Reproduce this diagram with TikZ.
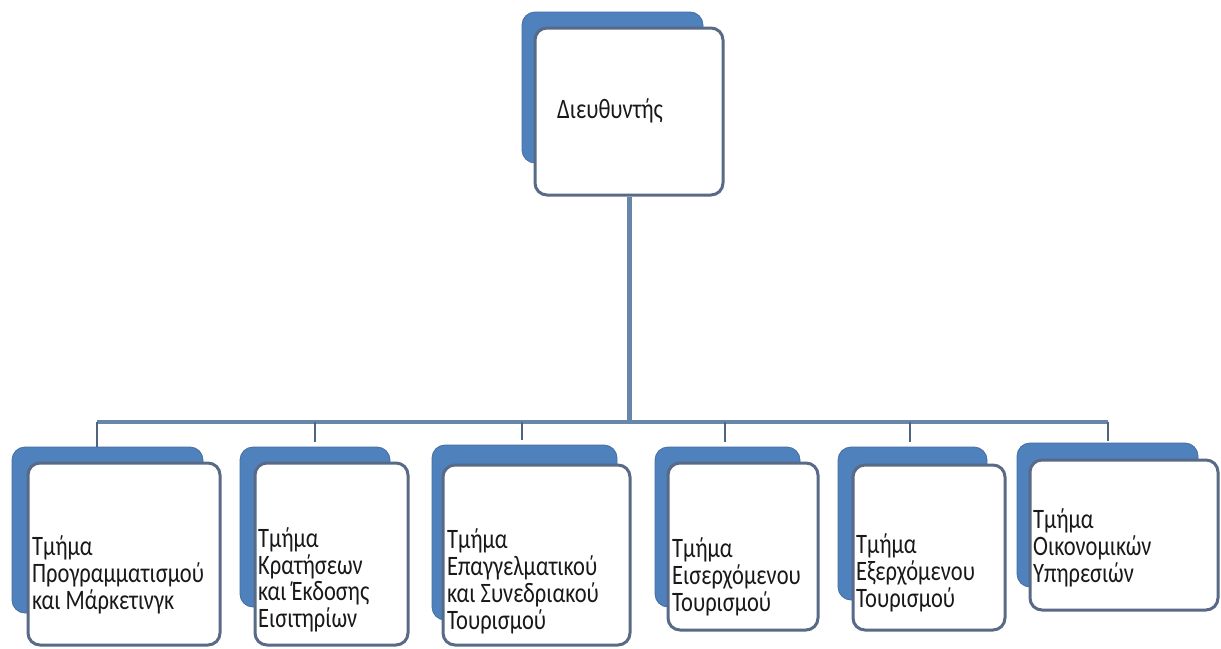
\documentclass[tikz,border=0pt]{standalone}
\usepackage{fontspec}
\usepackage{graphicx}
\setmainfont{Carlito}
\definecolor{boxblue}{RGB}{79,129,189}
\definecolor{boxedge}{RGB}{88,106,134}
\definecolor{linkblue}{RGB}{104,133,170}
\newcommand{\boxlines}[1]{\scalebox{1}[1.25]{\begin{tabular}[t]{@{}l@{}}#1\end{tabular}}}
\tikzset{
  backbox/.style={fill=boxblue, draw=boxblue!85!black, line width=0.8pt, rounded corners=13pt, inner sep=0pt},
  frontbox/.style={fill=white, draw=boxedge, line width=3pt, rounded corners=12pt, inner sep=0pt},
  label/.style={anchor=base west, inner sep=0pt, font=\fontsize{22.5}{19.6}\selectfont, text=black!90},
  trunk/.style={draw=linkblue, line width=5pt},
  bus/.style={draw=linkblue, line width=3.8pt},
  drop/.style={draw=linkblue!75!black, line width=2.5pt}
}
\begin{document}
\begin{tikzpicture}[x=1pt,y=-1pt]
\useasboundingbox (0,0) rectangle (1221,648);
\fill[white] (0,0) rectangle (1221,648);
% top box
\node[backbox, minimum width=181pt, minimum height=151pt] (dirback) at (612.5,87.5) {};
\node[frontbox, minimum width=188pt, minimum height=167pt] (dir) at (629,111.5) {};
\node[label] (dirtext) at (557,118) {\boxlines{Διευθυντής}};
% bus
\coordinate (hub) at (622,422);
\coordinate (bus1) at (97,422);
\coordinate (bus2) at (315,422);
\coordinate (bus3) at (522,422);
\coordinate (bus4) at (725,422);
\coordinate (bus5) at (910,422);
\coordinate (bus6) at (1108,422);
% box 1
\node[backbox, minimum width=191pt, minimum height=166pt] (b1back) at (107.5,530) {};
\node[frontbox, minimum width=192pt, minimum height=182pt] (b1) at (124,554) {};
\node[label] (t1) at (32,555) {\boxlines{Τμήμα\\Προγραμματισμού\\και Μάρκετινγκ}};
% box 2
\node[backbox, minimum width=150pt, minimum height=160pt] (b2back) at (315,527) {};
\node[frontbox, minimum width=153pt, minimum height=182pt] (b2) at (331.5,554) {};
\node[label] (t2) at (258,547) {\boxlines{Τμήμα\\Κρατήσεων\\και Έκδοσης\\Εισιτηρίων}};
% box 3
\node[backbox, minimum width=185pt, minimum height=175pt] (b3back) at (524.5,532.5) {};
\node[frontbox, minimum width=187pt, minimum height=180pt] (b3) at (536.5,555) {};
\node[label] (t3) at (447,548) {\boxlines{Τμήμα\\Επαγγελματικού\\και Συνεδριακού\\Τουρισμού}};
% box 4
\node[backbox, minimum width=145pt, minimum height=160pt] (b4back) at (727.5,527) {};
\node[frontbox, minimum width=150pt, minimum height=167pt] (b4) at (743,546.5) {};
\node[label] (t4) at (672,557) {\boxlines{Τμήμα\\Εισερχόμενου\\Τουρισμού}};
% box 5
\node[backbox, minimum width=149pt, minimum height=153pt] (b5back) at (912.5,523.5) {};
\node[frontbox, minimum width=152pt, minimum height=165pt] (b5) at (929,547.5) {};
\node[label] (t5) at (856,553) {\boxlines{Τμήμα\\Εξερχόμενου\\Τουρισμού}};
% box 6
\node[backbox, minimum width=181pt, minimum height=144pt] (b6back) at (1107.5,515) {};
\node[frontbox, minimum width=188pt, minimum height=150pt] (b6) at (1124,535) {};
\node[label] (t6) at (1033,528) {\boxlines{Τμήμα\\Οικονομικών\\Υπηρεσιών}};
% connectors
\draw[trunk] (dir.south) -- (dir.south |- hub);
\draw[bus] (bus1) -- (bus6);
\draw[drop] (bus1) -- (bus1 |- b1back.north);
\draw[drop, shorten >=5pt] (bus2) -- (b2back.north);
\draw[drop, shorten >=5pt] (bus3) -- (bus3 |- b3back.north);
\draw[drop, shorten >=5pt] (bus4) -- (bus4 |- b4back.north);
\draw[drop, shorten >=5pt] (bus5) -- (bus5 |- b5back.north);
\draw[drop, shorten >=2pt] (bus6) -- (bus6 |- b6back.north);
\end{tikzpicture}
\end{document}
